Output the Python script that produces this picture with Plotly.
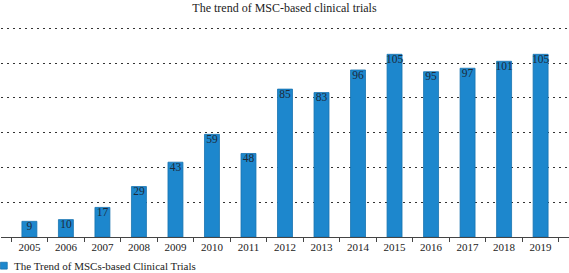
import plotly.graph_objects as go

years = ["2005", "2006", "2007", "2008", "2009", "2010", "2011", "2012",
         "2013", "2014", "2015", "2016", "2017", "2018", "2019"]
trials = [9, 10, 17, 29, 43, 59, 48, 85, 83, 96, 105, 95, 97, 101, 105]
series_name = "The Trend of MSCs-based Clinical Trials"
title_text = "The trend of MSC-based clinical trials"

FONT = "Liberation Serif"
BAR = "#1d87cd"

fig = go.Figure()
fig.add_trace(go.Bar(
    x=years, y=trials, name=series_name,
    marker=dict(color=BAR, line=dict(color="#1672b0", width=0.8)),
    width=0.41, showlegend=False,
    hoverinfo="x+y",
))
fig.add_trace(go.Scatter(
    x=years, y=trials, mode="text", text=[str(v) for v in trials],
    textposition="bottom center",
    textfont=dict(family=FONT, size=11.5, color="#1c2a3a"),
    showlegend=False, hoverinfo="skip",
))

# legend drawn as a swatch + text below the axis
fig.add_shape(type="rect", xref="paper", yref="paper",
              x0=-0.001, x1=0.011, y0=-0.15, y1=-0.118,
              fillcolor=BAR, line=dict(color="#1672b0", width=0.8))
fig.add_annotation(text=series_name, xref="paper", yref="paper",
                   x=0.019, y=-0.134, xanchor="left", yanchor="middle",
                   showarrow=False,
                   font=dict(family=FONT, size=11, color="#222"))

fig.update_layout(
    width=569, height=273,
    margin=dict(l=1, r=0, t=23, b=36, autoexpand=False),
    paper_bgcolor="white", plot_bgcolor="white",
    title=dict(text=title_text, x=0.5, xanchor="center", y=0.972, yanchor="middle",
               font=dict(family=FONT, size=12, color="#222")),
    font=dict(family=FONT, size=11, color="#222"),
    showlegend=False,
    bargap=0.59,
)
fig.update_xaxes(
    type="category", showline=True, linecolor="#444", linewidth=1,
    ticks="outside", tickson="boundaries", ticklen=4, tickcolor="#444",
    tickfont=dict(family=FONT, size=11, color="#222"), showgrid=False,
)
fig.update_yaxes(
    range=[0, 123], tickvals=[20, 40, 60, 80, 100, 120], showticklabels=False,
    showgrid=True, gridcolor="#333", griddash="2px,4px", gridwidth=1.2,
    zeroline=False, showline=False,
)

fig.write_html("out.html", config={"displayModeBar": False},
               post_script="document.body.style.margin='0';")
